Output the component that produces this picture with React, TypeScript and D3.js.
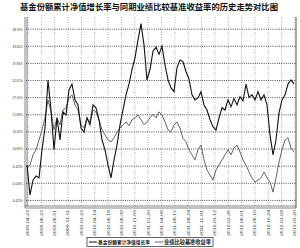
import React from 'react';
import * as d3 from 'd3';

const title = '基金份额累计净值增长率与同期业绩比较基准收益率的历史走势对比图';
const yTicks = [-5.42, 0, 5.42, 10.84, 16.26, 21.68, 27.1, 32.52, 37.94, 43.36, 48.76];
const xLabels = [
  '2009-04-23', '2009-06-23', '2009-08-31', '2009-11-11', '2010-01-23', '2010-04-14', '2010-06-18',
  '2010-08-30', '2010-11-09', '2011-01-20', '2011-04-06', '2011-06-15', '2011-08-24', '2011-11-01',
  '2012-01-12', '2012-03-26', '2012-06-01', '2012-08-10', '2012-10-24', '2013-01-08', '2013-03-20',
];

// 基金份额累计净值增长率 (%)
const fund = [
  5.8, -3.7, 1.0, 2.3, 1.7, 10.6, 17.5, 32.7, 23.2, 10.6,
  20.7, 13.7, 22.6, 21.6, 29.6, 31.4, 26.4, 24.8, 17.5, 16.2,
  20.7, 18.5, 24.8, 23.9, 20.1, 13.7, 10.6, 5.8, 1.7, 7.4,
  12.1, 18.5, 23.2, 28.0, 31.4, 36.0, 39.7, 45.4, 50.5, 43.8,
  32.7, 36.0, 41.8, 43.1, 40.8, 43.4, 37.5, 32.7, 30.2, 29.0,
  36.6, 39.0, 38.5, 35.3, 33.0, 28.0, 26.4, 27.0, 29.0, 24.8,
  23.2, 20.1, 17.9, 16.8, 20.7, 23.9, 23.2, 26.4, 24.2, 26.8,
  24.8, 27.4, 26.1, 31.4, 27.2, 28.0, 26.4, 29.0, 26.4, 28.0,
  24.8, 15.3, 9.0, 13.7, 22.3, 26.4, 28.0, 31.4, 32.7, 31.4,
];

// 业绩比较基准收益率 (%)
const bench = [
  4.9, 5.8, 9.0, 10.6, 13.7, 16.9, 20.7, 26.4, 22.6, 16.9,
  20.7, 18.5, 23.2, 23.9, 27.0, 28.0, 24.8, 23.2, 18.5, 17.5,
  20.7, 19.4, 23.2, 22.6, 20.1, 16.9, 15.3, 13.7, 13.1, 14.4,
  16.2, 17.5, 18.5, 19.4, 18.2, 20.1, 20.7, 21.6, 20.1, 18.5,
  19.4, 20.7, 21.9, 20.7, 22.6, 21.6, 19.4, 16.9, 16.2, 18.5,
  19.4, 17.5, 14.2, 13.1, 10.6, 9.0, 7.4, 10.6, 12.1, 7.4,
  4.2, 2.6, 1.0, 4.2, 5.8, 7.4, 9.0, 10.6, 9.0, 11.2,
  12.1, 9.9, 7.4, 5.8, 3.6, 1.7, 0.4, 1.0, 1.7, 3.6,
  1.7, 0.4, -2.8, 1.7, 6.7, 10.6, 13.7, 14.4, 11.2, 9.9,
];

const W = 300;
const H = 248;
const left = 26;
const right = 296;
const top = 17;
const bottom = 206;

export default function App() {
  const x = d3.scaleLinear().domain([0, fund.length - 1]).range([27, 294]);
  const y = d3.scaleLinear().domain([0, 48.76]).range([183.3, 29.2]);
  const xl = d3.scalePoint<string>().domain(xLabels).range([28, 295]);
  const line = d3.line<number>().x((_, i) => x(i)).y(d => y(d));
  const font = '"Liberation Sans", Arial, sans-serif';
  const cjk = '"Noto Sans CJK SC", sans-serif';

  return (
    <svg width={W} height={H} style={{ position: 'absolute', left: 0, top: 0, background: '#fff' }}>
      <text x={149} y={10} textAnchor="middle" fontFamily={cjk} fontWeight="bold" fontSize={8.3} fill="#111"
        textLength={258} lengthAdjust="spacingAndGlyphs">
        {title}
      </text>

      {/* grid */}
      {xLabels.map(d => (
        <line key={d} x1={xl(d)} x2={xl(d)} y1={top} y2={bottom} stroke="#888" strokeWidth={0.7} strokeDasharray="1,1.5" />
      ))}
      {yTicks.map(t => (
        <line key={t} x1={left} x2={right} y1={y(t)} y2={y(t)} stroke="#222" strokeWidth={0.8} strokeDasharray="1,1.2" />
      ))}

      {/* frame */}
      <line x1={25} x2={25} y1={top} y2={bottom + 2} stroke="#333" strokeWidth={0.6} />
      <line x1={27} x2={27} y1={top} y2={bottom} stroke="#333" strokeWidth={0.6} />
      <line x1={25} x2={right} y1={bottom} y2={bottom} stroke="#333" strokeWidth={0.6} />
      <line x1={25} x2={right} y1={bottom + 2} y2={bottom + 2} stroke="#333" strokeWidth={0.6} />
      <line x1={right} x2={right} y1={top} y2={bottom + 2} stroke="#333" strokeWidth={0.8} />

      {/* y labels */}
      {yTicks.map(t => (
        <text key={t} x={22.5} y={y(t) + 1.4} textAnchor="end" fontFamily={font} fontSize={4.2} fill="#333"
          textLength={t < 0 ? 11 : 10} lengthAdjust="spacingAndGlyphs">
          {t.toFixed(2) + '%'}
        </text>
      ))}

      {/* x labels */}
      {xLabels.map(d => (
        <text key={d} transform={`translate(${(xl(d) as number) + 1.4},${bottom + 4}) rotate(-90)`} textAnchor="end"
          fontFamily={font} fontSize={4.2} fill="#333" textLength={26} lengthAdjust="spacingAndGlyphs">
          {d}
        </text>
      ))}

      {/* series */}
      <path d={line(bench) || ''} fill="none" stroke="#666" strokeWidth={1} />
      <path d={line(fund) || ''} fill="none" stroke="#111" strokeWidth={1.1} />

      {/* legend */}
      <rect x={87} y={237.5} width={126} height={9} fill="#fff" stroke="#222" strokeWidth={0.7} />
      <line x1={89} x2={97} y1={242} y2={242} stroke="#111" strokeWidth={1} />
      <text x={98} y={244} fontFamily={cjk} fontWeight="bold" fontSize={4.8} fill="#222"
        textLength={52} lengthAdjust="spacingAndGlyphs">基金份额累计净值增长率</text>
      <line x1={155} x2={163} y1={242} y2={242} stroke="#666" strokeWidth={1} />
      <text x={164} y={244} fontFamily={cjk} fontWeight="bold" fontSize={5.3} fill="#222"
        textLength={47} lengthAdjust="spacingAndGlyphs">业绩比较基准收益率</text>
    </svg>
  );
}
